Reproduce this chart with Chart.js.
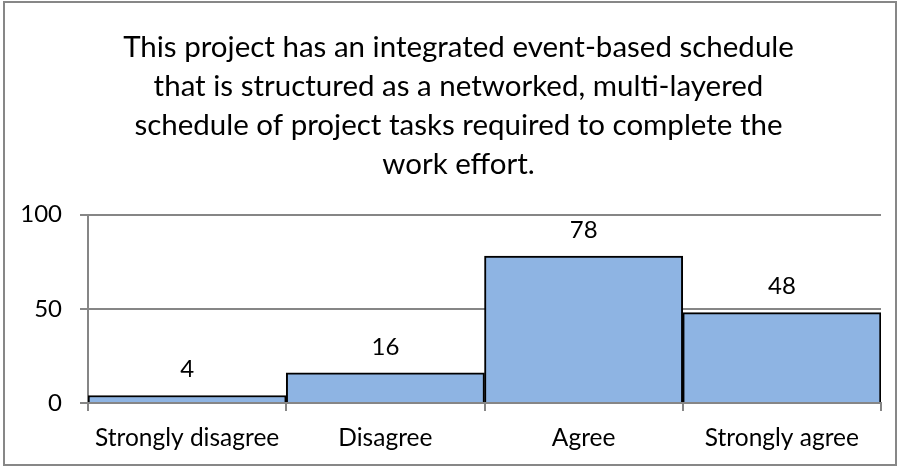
<!DOCTYPE html>
<html>
<head>
<meta charset="utf-8">
<script src="https://cdn.jsdelivr.net/npm/chart.js@4.4.0/dist/chart.umd.min.js"></script>
<style>
  html, body { margin: 0; padding: 0; background: #fff; }
  #wrap { width: 900px; height: 468px; }
</style>
</head>
<body>
<div id="wrap"><canvas id="surveyChart" width="900" height="468"></canvas></div>
<script>
// Survey data
const categories = ['Strongly disagree', 'Disagree', 'Agree', 'Strongly agree'];
const responses = [4, 16, 78, 48];
const titleLines = [
  'This project has an integrated event-based schedule',
  'that is structured as a networked, multi-layered',
  'schedule of project tasks required to complete the',
  'work effort.'
];
const yTicks = [0, 50, 100];

const FONT = 'Lato, "Noto Sans", sans-serif';
const GRID = '#868686';

// Outer frame around the whole chart
const framePlugin = {
  id: 'frame',
  beforeDraw(chart) {
    const ctx = chart.ctx;
    ctx.save();
    ctx.fillStyle = '#fff';
    ctx.fillRect(0, 0, chart.width, chart.height);
    ctx.strokeStyle = '#878787';
    ctx.lineWidth = 2;
    ctx.strokeRect(4, 2, 892, 463);
    ctx.restore();
  },
  // centre the title a bit right of the canvas middle, like the original
  afterLayout(chart) {
    if (chart.titleBlock) {
      chart.titleBlock.left = 36;
    }
  }
};

// Value labels above each bar
const valueLabels = {
  id: 'valueLabels',
  afterDatasetsDraw(chart) {
    const ctx = chart.ctx;
    const meta = chart.getDatasetMeta(0);
    ctx.save();
    ctx.font = '24px ' + FONT;
    ctx.fillStyle = '#000';
    ctx.textAlign = 'center';
    ctx.textBaseline = 'middle';
    meta.data.forEach((bar, i) => {
      ctx.fillText(String(responses[i]), bar.x, bar.y - 26);
    });
    ctx.restore();
  }
};

new Chart(document.getElementById('surveyChart'), {
  type: 'bar',
  data: {
    labels: categories,
    datasets: [{
      data: responses,
      backgroundColor: '#8EB4E3',
      borderColor: '#000',
      borderWidth: 2,
      categoryPercentage: 1,
      barPercentage: 1
    }]
  },
  options: {
    responsive: false,
    animation: false,
    layout: { padding: { top: 0, left: 0, right: 19, bottom: 0 } },
    plugins: {
      legend: { display: false },
      tooltip: { enabled: false },
      title: {
        display: true,
        text: titleLines,
        color: '#000',
        font: { family: FONT, size: 29.5, weight: 'normal', lineHeight: 1.32 },
        padding: { top: 28, bottom: 31 }
      }
    },
    scales: {
      x: {
        grid: {
          offset: true,
          drawOnChartArea: false,
          drawTicks: true,
          tickLength: 8,
          color: GRID,
          lineWidth: 2
        },
        border: { color: GRID, width: 2 },
        ticks: {
          color: '#000',
          font: { family: FONT, size: 24.5 },
          padding: 12
        },
        afterFit(scale) { scale.height = 65; }
      },
      y: {
        min: 0,
        max: 100,
        afterBuildTicks(scale) { scale.ticks = yTicks.map(v => ({ value: v })); },
        grid: {
          color: GRID,
          lineWidth: 2,
          tickLength: 8
        },
        border: { color: GRID, width: 2 },
        ticks: {
          color: '#000',
          font: { family: FONT, size: 24 },
          padding: 18
        },
        afterFit(scale) { scale.width = 88; }
      }
    }
  },
  plugins: [framePlugin, valueLabels]
});
</script>
</body>
</html>
